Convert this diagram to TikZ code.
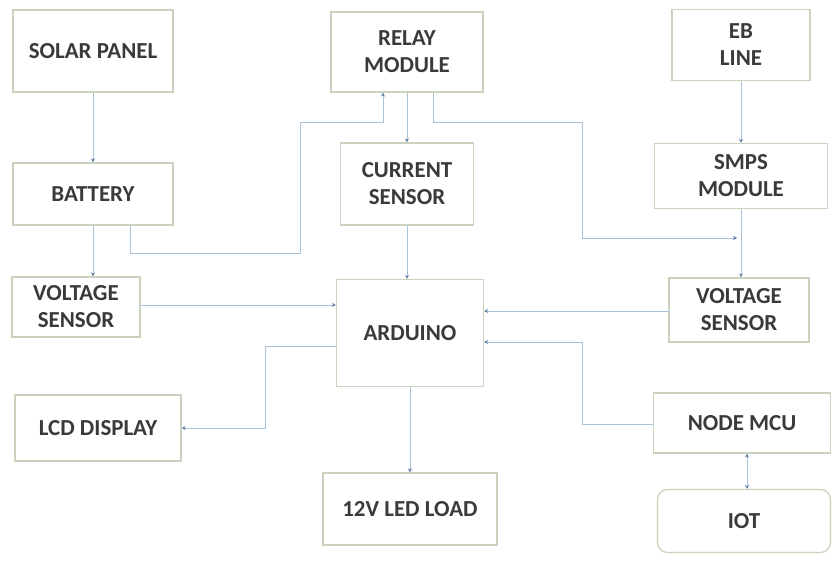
\documentclass[tikz,border=0pt]{standalone}
\usepackage{fontspec}
\setmainfont{Carlito}
\usetikzlibrary{arrows.meta}
\definecolor{boxline}{HTML}{C9D3BE}
\definecolor{conline}{HTML}{A8C2DA}
\definecolor{tipcol}{HTML}{5E7FA3}
\definecolor{txt}{HTML}{3A3A3A}
\tikzset{
  blk/.style={draw=boxline, line width=1.2bp, fill=white, text=txt, align=center,
    font=\fontsize{23}{27}\selectfont\bfseries, inner sep=0pt},
  conn/.style={draw=conline, line width=1bp, -{Stealth[length=4bp,width=4bp,color=tipcol]}},
  bconn/.style={draw=conline, line width=1bp, {Stealth[length=4bp,width=4bp,color=tipcol]}-{Stealth[length=4bp,width=4bp,color=tipcol]}}
}
\begin{document}
\begin{tikzpicture}[x=1bp,y=-1bp]
\useasboundingbox (0,0) rectangle (832,565);
% blocks
\node[blk, minimum width=160bp, minimum height=82bp] (solar) at (93,51) {SOLAR PANEL};
\node[blk, minimum width=160bp, minimum height=62bp] (battery) at (93,194) {BATTERY};
\node[blk, minimum width=128bp, minimum height=60bp] (vsl) at (76,307) {VOLTAGE\\SENSOR};
\node[blk, minimum width=166bp, minimum height=66bp] (lcd) at (98,428) {LCD DISPLAY};
\node[blk, minimum width=152bp, minimum height=80bp] (relay) at (407,52) {RELAY\\MODULE};
\node[blk, minimum width=133bp, minimum height=82bp] (current) at (407,184) {CURRENT\\SENSOR};
\node[blk, minimum width=147bp, minimum height=107bp] (arduino) at (410,333) {ARDUINO};
\node[blk, minimum width=174bp, minimum height=72bp] (led) at (410,509) {12V LED LOAD};
\node[blk, minimum width=138bp, minimum height=71bp] (eb) at (741,45) {EB\\LINE};
\node[blk, minimum width=173bp, minimum height=65bp] (smps) at (741,176) {SMPS\\MODULE};
\node[blk, minimum width=140bp, minimum height=64bp] (vsr) at (739,310) {VOLTAGE\\SENSOR};
\node[blk, minimum width=177bp, minimum height=60bp] (mcu) at (742,423) {NODE MCU};
\node[blk, minimum width=173bp, minimum height=63bp, rounded corners=10bp] (iot) at (744,521) {IOT};
% bend points
\coordinate (b1) at (130,253);
\coordinate (b2) at (300,253);
\coordinate (b3) at (300,123);
\coordinate (b4) at (383,123);
\coordinate (r1) at (433,123);
\coordinate (r2) at (582,123);
\coordinate (r3) at (582,238);
\coordinate (r4) at (737,238);
\coordinate (l1) at (265,346);
\coordinate (l2) at (265,428);
\coordinate (m1) at (582,424);
\coordinate (m2) at (582,342);
\coordinate (v1) at (140,305);
\coordinate (v2) at (669,311);
\coordinate (n1) at (747,0);
% connectors
\draw[conn] (solar) -- (battery);
\draw[conn] (battery) -- (vsl.north -| battery);
\draw[conn] (battery.south -| b1) -- (b1) -- (b2) -- (b3) -- (b4) -- (relay.south -| b4);
\draw[conn] (relay) -- (current);
\draw[conn] (relay.south -| r1) -- (r1) -- (r2) -- (r3) -- (r4);
\draw[conn] (eb) -- (smps);
\draw[conn] (smps) -- (vsr.north -| smps);
\draw[conn] (current) -- (arduino.north -| current);
\draw[conn] (v1) -- (arduino.west |- v1);
\draw[conn] (arduino.west |- l1) -- (l1) -- (l2) -- (lcd.east |- l2);
\draw[conn] (v2) -- (arduino.east |- v2);
\draw[conn] (mcu.west |- m1) -- (m1) -- (m2) -- (arduino.east |- m2);
\draw[conn] (arduino) -- (led);
\draw[bconn] (mcu.south -| n1) -- (iot.north -| n1);
\end{tikzpicture}
\end{document}
